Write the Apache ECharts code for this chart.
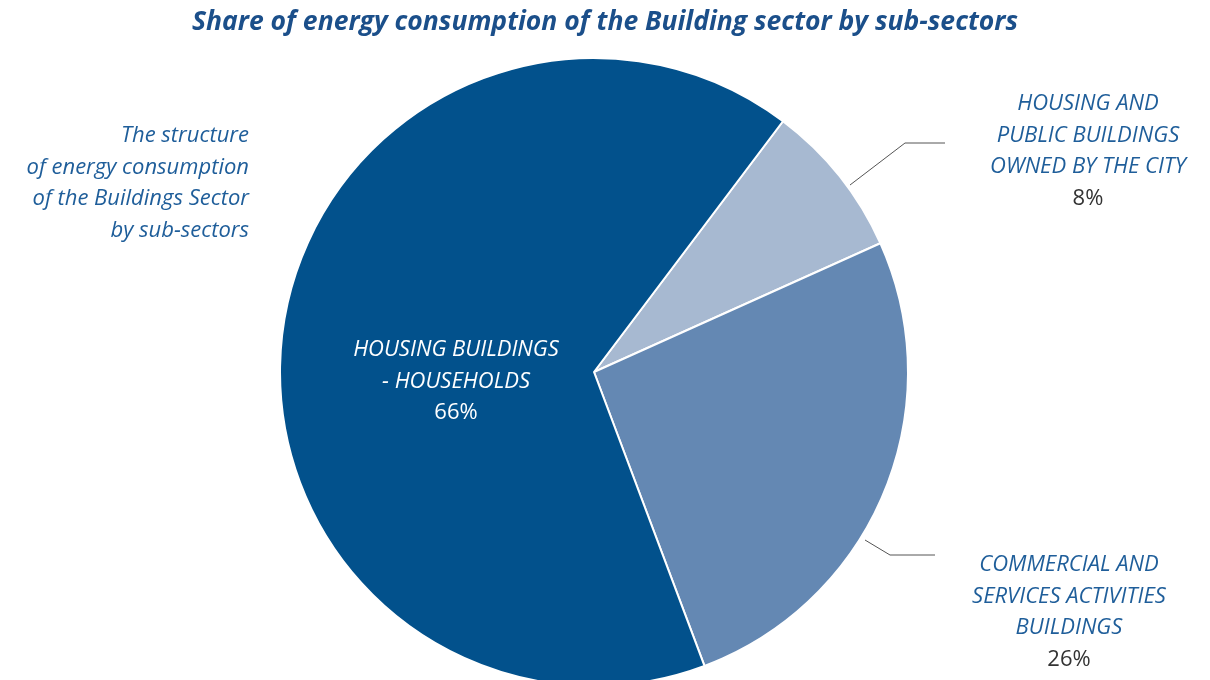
<!DOCTYPE html>
<html><head><meta charset="utf-8">
<script src="https://cdn.jsdelivr.net/npm/echarts@6/dist/echarts.min.js"></script>
<style>html,body{margin:0;padding:0;background:#fff}#c{width:1210px;height:680px}</style>
</head><body><div id="c"></div>
<script>
const titleText = 'Share of energy consumption of the Building sector by sub-sectors';
const sideNote = 'The structure\nof energy consumption\nof the Buildings Sector\nby sub-sectors';
const categories = ['HOUSING AND\nPUBLIC BUILDINGS\nOWNED BY THE CITY', 'COMMERCIAL AND\nSERVICES ACTIVITIES\nBUILDINGS', 'HOUSING BUILDINGS\n- HOUSEHOLDS'];
const values = [8, 26, 66];
const colors = ['#A7B9D1', '#6488B3', '#02518C'];

const FONT = '"Open Sans", sans-serif';
const chart = echarts.init(document.getElementById('c'));

// label placement (layout, not data)
const labelPos = [
  {x: 1088, y: 88, line: [[850, 185], [905, 143], [945, 143]]},
  {x: 1069, y: 549, line: [[865, 540], [890, 555], [935, 555]]},
  {x: 456, y: 334, line: null}
];

chart.setOption({
  backgroundColor: '#fff',
  title: {
    text: titleText, left: 'center', top: 4,
    textStyle: {fontFamily: FONT, fontSize: 26.5, fontWeight: 'bold', fontStyle: 'italic', color: '#1B4F8A'}
  },
  graphic: [{
    type: 'text', x: 249, y: 120,
    style: {
      text: sideNote, fill: '#1F5E9A', font: 'italic 22px ' + FONT,
      align: 'right', verticalAlign: 'top', lineHeight: 31.5
    }
  }],
  series: [{
    type: 'pie',
    center: [594, 372],
    radius: 314,
    startAngle: 53,
    clockwise: true,
    animation: false,
    itemStyle: {borderColor: '#fff', borderWidth: 2},
    data: categories.map((n, i) => ({
      name: n, value: values[i],
      itemStyle: {color: colors[i]},
      label: i === 2 ? {position: 'inside', rich: {n: {color: '#fff'}, p: {color: '#fff'}}} : {position: 'outside'},
      labelLine: {show: i !== 2}
    })),
    label: {
      formatter: p => '{n|' + p.name.split('\n').join('}\n{n|') + '}\n{p|' + p.value + '%}',
      rich: {
        n: {fontFamily: FONT, fontSize: 22, fontStyle: 'italic', color: '#1F5E9A', lineHeight: 31.5, align: 'center'},
        p: {fontFamily: FONT, fontSize: 22, color: '#333', lineHeight: 31.5, align: 'center'}
      }
    },
    labelLine: {lineStyle: {color: '#555', width: 1}},
    labelLayout: function (params) {
      const lp = labelPos[params.dataIndex];
      const o = {x: lp.x, y: lp.y, align: 'center', verticalAlign: 'top'};
      if (lp.line) o.labelLinePoints = lp.line;
      return o;
    }
  }]
});
</script></body></html>
